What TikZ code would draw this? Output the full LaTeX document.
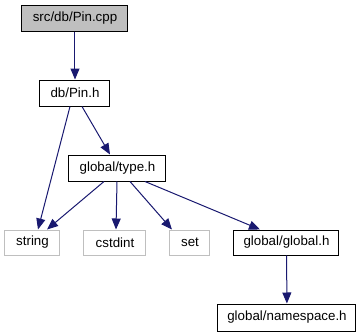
\documentclass[tikz,border=0pt]{standalone}
\usepackage{fontspec}
\setmainfont{Liberation Sans}
\usetikzlibrary{arrows.meta}
\definecolor{edgeblue}{HTML}{191970}
\definecolor{extgray}{HTML}{BFBFBF}
\newcommand{\px}{0.75pt}

\begin{document}
\begin{tikzpicture}[x=\px, y=-\px, font=\fontsize{10}{12}\selectfont,
  file/.style={draw=black, line width=\px, minimum height=26*\px, inner sep=0pt},
  ext/.style={draw=extgray, line width=\px, minimum height=25*\px, inner sep=0pt},
  dep/.style={draw=edgeblue, line width=\px, -{Triangle[length=11*\px, width=9*\px]}, fill=none},
  every node/.append style={text=black}]
  \useasboundingbox (0,0) rectangle (362,336);

  \node[file, fill=extgray, minimum width=106*\px] (cpp) at (75,18) {src/db/Pin.cpp};
  \node[file, minimum width=70*\px] (pinh) at (75,93) {db/Pin.h};
  \node[file, minimum width=97*\px] (typeh) at (117.5,168) {global/type.h};

  \node[ext, minimum width=55*\px] (str) at (32.5,242.5) {string};
  \node[ext, minimum width=62*\px] (cstd) at (115,242.5) {cstdint};
  \node[ext, minimum width=40*\px] (set) at (190,242.5) {set};
  \node[file, minimum width=105*\px, minimum height=25*\px] (glob) at (286.5,242.5) {global/global.h};
  \node[file, minimum width=138*\px, minimum height=27*\px] (ns) at (287,317.5) {global/namespace.h};

  \draw[dep] (cpp) -- (pinh);
  \draw[dep] ([xshift=-5*\px]pinh.south) -- ([xshift=5.5*\px]str.north);
  \draw[dep] ([xshift=7*\px]pinh.south) -- ([xshift=-7.5*\px]typeh.north);
  \draw[dep] ([xshift=-13.5*\px]typeh.south) -- ([xshift=14.5*\px]str.north);
  \draw[dep] ([xshift=-0.5*\px]typeh.south) -- ([xshift=1*\px]cstd.north);
  \draw[dep] ([xshift=12.5*\px]typeh.south) -- ([xshift=-18*\px]set.north);
  \draw[dep] ([xshift=27.5*\px]typeh.south) -- ([xshift=-26.5*\px]glob.north);
  \draw[dep] (glob) -- (ns);
\end{tikzpicture}
\end{document}
